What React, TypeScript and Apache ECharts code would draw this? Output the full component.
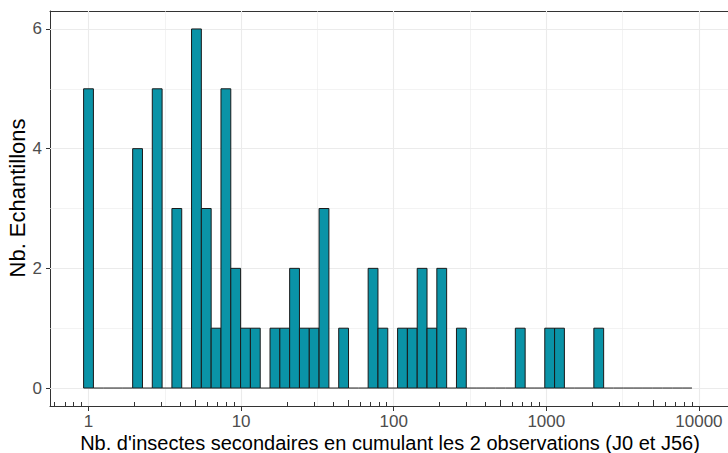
import React, { useEffect, useRef } from "react";
import * as echarts from "echarts";

// Histogram bins on a log10 scale (bin k is centred at k * BIN_WIDTH_LOG10 in log10 units)
const BIN_WIDTH_LOG10 = 0.0643;
const binCounts = [
  5, 0, 0, 0, 0, 4, 0, 5, 0, 3,
  0, 6, 3, 1, 5, 2, 1, 1, 0, 1,
  1, 2, 1, 1, 3, 0, 1, 0, 0, 2,
  1, 0, 1, 1, 2, 1, 2, 0, 1, 0,
  0, 0, 0, 0, 1, 0, 0, 1, 1, 0,
  0, 0, 1, 0, 0, 0, 0, 0, 0, 0,
  0, 0,
];

const xMajorTicks = [1, 10, 100, 1000, 10000];
const xMidTicks = [5, 50, 500, 5000];
const xMinorTicks = [
  0.6, 0.7, 0.8, 0.9,
  2, 3, 4, 6, 7, 8, 9,
  20, 30, 40, 60, 70, 80, 90,
  200, 300, 400, 600, 700, 800, 900,
  2000, 3000, 4000, 6000, 7000, 8000, 9000,
];
const xGridValues = [1, 3.1623, 10, 31.623, 100, 316.23, 1000, 3162.3, 10000];
const yTicks = [0, 2, 4, 6];
const yGridValues = [0, 1, 2, 3, 4, 5, 6];

const xTitle = "Nb. d'insectes secondaires en cumulant les 2 observations (J0 et J56)";
const yTitle = "Nb. Echantillons";

const X_MIN = -0.2523;
const X_MAX = 4.2037;
const Y_MIN = -0.3;
const Y_MAX = 6.3;

const FONT = "'Liberation Sans', Arial, Helvetica, sans-serif";
const AXIS_COLOR = "#333333";

const lg = (v: number) => Math.log10(v);

function helperAxis(values: number[], length: number, inside: boolean, position: string) {
  return {
    type: "value",
    min: X_MIN,
    max: X_MAX,
    position,
    axisLine: { show: false },
    axisTick: {
      show: true,
      inside,
      length,
      customValues: values,
      lineStyle: { color: AXIS_COLOR, width: 1 },
    },
    axisLabel: { show: false },
    splitLine: { show: false },
  };
}

export default function App() {
  const ref = useRef<HTMLDivElement>(null);

  useEffect(() => {
    if (!ref.current) return;
    const chart = echarts.init(ref.current, undefined, { renderer: "svg" });
    const majors = xMajorTicks.map(lg);

    const option: any = {
      animation: false,
      backgroundColor: "#ffffff",
      grid: {
        left: 50,
        top: 11,
        width: 680,
        height: 395,
        outerBoundsMode: "none",
        containLabel: false,
      },
      graphic: [
        {
          type: "text",
          x: 17,
          y: 198,
          rotation: Math.PI / 2,
          silent: true,
          style: {
            text: yTitle,
            fill: "#000000",
            fontSize: 22,
            fontFamily: FONT,
            textAlign: "center",
            textVerticalAlign: "middle",
          },
        },
        {
          type: "text",
          x: 390,
          y: 443,
          silent: true,
          style: {
            text: xTitle,
            fill: "#000000",
            fontSize: 20,
            fontFamily: FONT,
            textAlign: "center",
            textVerticalAlign: "middle",
          },
        },
      ],
      xAxis: [
        {
          type: "value",
          min: X_MIN,
          max: X_MAX,
          position: "bottom",
          axisLine: { show: true, onZero: false, lineStyle: { color: AXIS_COLOR, width: 1 } },
          axisTick: {
            show: true,
            inside: false,
            length: 5,
            customValues: majors,
            lineStyle: { color: AXIS_COLOR, width: 1 },
          },
          axisLabel: {
            customValues: majors,
            formatter: (v: number) => String(Math.round(Math.pow(10, v))),
            color: "#4d4d4d",
            fontSize: 17,
            fontFamily: FONT,
            margin: 7,
          },
          splitLine: { show: false },
        },
        helperAxis(majors, 5, true, "bottom"),
        helperAxis(xMinorTicks.map(lg), 4, true, "bottom"),
        helperAxis(xMidTicks.map(lg), 6, true, "bottom"),
        {
          type: "value",
          min: X_MIN,
          max: X_MAX,
          position: "top",
          axisLine: { show: true, onZero: false, lineStyle: { color: AXIS_COLOR, width: 1 } },
          axisTick: { show: false },
          axisLabel: { show: false },
          splitLine: { show: false },
        },
      ],
      yAxis: {
        type: "value",
        min: Y_MIN,
        max: Y_MAX,
        axisLine: { show: true, onZero: false, lineStyle: { color: AXIS_COLOR, width: 1 } },
        axisTick: {
          show: true,
          length: 4,
          customValues: yTicks,
          lineStyle: { color: AXIS_COLOR, width: 1 },
        },
        axisLabel: {
          customValues: yTicks,
          color: "#4d4d4d",
          fontSize: 17,
          fontFamily: FONT,
          margin: 8,
        },
        splitLine: { show: false },
      },
      series: [
        {
          type: "line",
          data: [],
          xAxisIndex: 0,
          yAxisIndex: 0,
          z: 0,
          silent: true,
          markLine: {
            silent: true,
            symbol: ["none", "none"],
            label: { show: false },
            animation: false,
            data: [
              ...xGridValues.map((v, i) => ({
                xAxis: lg(v),
                lineStyle: { color: "#ebebeb", width: i % 2 === 0 ? 1.1 : 0.6, type: "solid" },
              })),
              ...yGridValues.map((v) => ({
                yAxis: v,
                lineStyle: { color: "#ebebeb", width: v % 2 === 0 ? 1.1 : 0.6, type: "solid" },
              })),
            ],
          },
        },
        {
          type: "custom",
          xAxisIndex: 0,
          yAxisIndex: 0,
          z: 5,
          data: binCounts.map((c, k) => [k * BIN_WIDTH_LOG10, c]),
          encode: { x: 0, y: 1 },
          renderItem: (_params: any, api: any) => {
            const center = api.value(0) as number;
            const count = api.value(1) as number;
            const p0 = api.coord([center - BIN_WIDTH_LOG10 / 2, count]);
            const p1 = api.coord([center + BIN_WIDTH_LOG10 / 2, 0]);
            if (count === 0) {
              return {
                type: "line",
                shape: { x1: p0[0], y1: p1[1], x2: p1[0], y2: p1[1] },
                style: { stroke: "#1a1a1a", lineWidth: 1 },
              };
            }
            return {
              type: "rect",
              shape: { x: p0[0], y: p0[1], width: p1[0] - p0[0], height: p1[1] - p0[1] },
              style: { fill: "#0a93a7", stroke: "#1a1a1a", lineWidth: 1 },
            };
          },
        },
      ],
    };

    chart.setOption(option);
    return () => chart.dispose();
  }, []);

  return (
    <div
      ref={ref}
      style={{ position: "fixed", left: 0, top: 0, width: 728, height: 453, background: "#fff" }}
    />
  );
}
